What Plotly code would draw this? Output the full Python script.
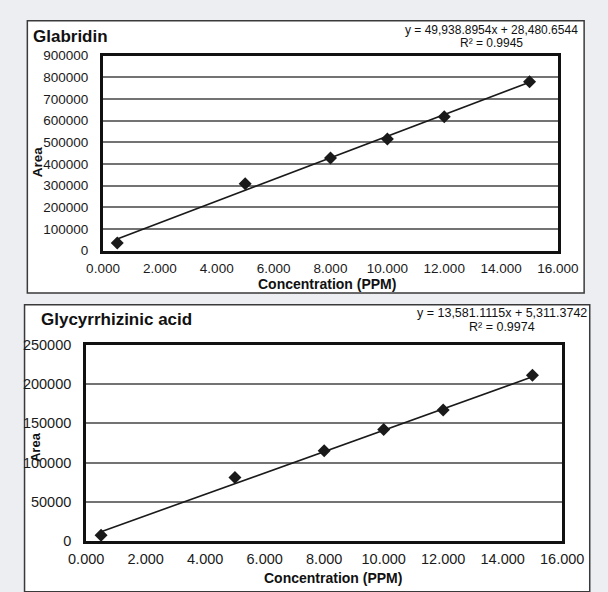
import plotly.graph_objects as go

# ---------------- data ----------------
conc = [0.5, 5, 8, 10, 12, 15]
glabridin_area = [35000, 308000, 428000, 515000, 618000, 780000]
glycyrrhizinic_area = [7500, 81000, 115000, 142000, 167000, 211000]

glab_slope, glab_icpt = 49938.8954, 28480.6544
glyc_slope, glyc_icpt = 13581.1115, 5311.3742
glab_r2, glyc_r2 = 0.9945, 0.9974

glab_eq = "y = 49,938.8954x + 28,480.6544"
glyc_eq = "y = 13,581.1115x + 5,311.3742"

x_ticks = [0, 2, 4, 6, 8, 10, 12, 14, 16]

W, H = 608, 592
FONT = "Arial, Liberation Sans, sans-serif"


def px(x):
    return x / W


def py(y):
    return 1 - y / H


fig = go.Figure()

# scatter points
fig.add_trace(go.Scatter(x=conc, y=glabridin_area, mode="markers",
                         marker=dict(symbol="diamond", size=10, color="#1a1a1a"),
                         xaxis="x", yaxis="y", showlegend=False))
fig.add_trace(go.Scatter(x=conc, y=glycyrrhizinic_area, mode="markers",
                         marker=dict(symbol="diamond", size=10, color="#1a1a1a"),
                         xaxis="x2", yaxis="y2", showlegend=False))

# linear trendlines from the equations
xs = [min(conc), max(conc)]
fig.add_trace(go.Scatter(x=xs, y=[glab_slope * v + glab_icpt for v in xs], mode="lines",
                         line=dict(color="#1a1a1a", width=1.6),
                         xaxis="x", yaxis="y", showlegend=False))
fig.add_trace(go.Scatter(x=xs, y=[glyc_slope * v + glyc_icpt for v in xs], mode="lines",
                         line=dict(color="#1a1a1a", width=1.6),
                         xaxis="x2", yaxis="y2", showlegend=False))

xax = dict(range=[0, 16], tickvals=x_ticks, tickformat=".3f", showgrid=False, zeroline=False,
           showline=True, mirror=True, linecolor="#111", linewidth=3, ticks="",
           fixedrange=True)
yax = dict(showgrid=True, gridcolor="#737373", gridwidth=1.6, zeroline=False,
           showline=True, mirror=True, linecolor="#111", linewidth=3, ticks="",
           tickformat="d", fixedrange=True)

fig.update_layout(
    width=W, height=H,
    margin=dict(l=0, r=0, t=0, b=0),
    paper_bgcolor="#eceef1",
    plot_bgcolor="white",
    font=dict(family=FONT, color="#1a1a1a"),
    xaxis=dict(xax, domain=[px(91), px(578)], anchor="y",
               tickfont=dict(size=13.5, color="#1a1a1a"), ticklabelstandoff=3),
    yaxis=dict(yax, domain=[py(249.3), py(49)], anchor="x", range=[0, 900000], dtick=100000,
               tickfont=dict(size=13.5, color="#1a1a1a"), ticklabelstandoff=9),
    xaxis2=dict(xax, domain=[px(73), px(582.5)], anchor="y2",
                tickfont=dict(size=14.5, color="#1a1a1a"), ticklabelstandoff=2),
    yaxis2=dict(yax, domain=[py(548), py(346)], anchor="x2", range=[0, 250000], dtick=50000,
                tickfont=dict(size=14.5, color="#1a1a1a"), ticklabelstandoff=9),
)

# panel frames
fig.add_shape(type="rect", xref="paper", yref="paper", layer="below",
              x0=px(10), x1=px(606), y0=py(293), y1=py(13),
              fillcolor="white", line=dict(color="#3a3a3a", width=1.5))
fig.add_shape(type="rect", xref="paper", yref="paper", layer="below",
              x0=px(7), x1=px(612), y0=py(600), y1=py(305),
              fillcolor="white", line=dict(color="#3a3a3a", width=1.5))


def ann(text, x, y, size, bold=False, xanchor="center", angle=0):
    fig.add_annotation(text=f"<b>{text}</b>" if bold else text,
                       xref="paper", yref="paper", x=px(x), y=py(y),
                       xanchor=xanchor, yanchor="middle", showarrow=False,
                       textangle=angle, font=dict(family=FONT, size=size, color="#111"))


# titles
ann("Glabridin", 14, 29, 17, bold=True, xanchor="left")
ann("Glycyrrhizinic acid", 22, 320, 17, bold=True, xanchor="left")

# equations
ann(glab_eq, 507, 23, 12)
ann(f"R² = {glab_r2:.4f}", 507, 36, 12)
ann(glyc_eq, 518.5, 313.5, 12.5)
ann(f"R² = {glyc_r2:.4f}", 518.5, 327.5, 12.5)

# axis titles
ann("Concentration (PPM)", 331, 284, 14, bold=True)
ann("Concentration (PPM)", 337, 585.5, 14, bold=True)
ann("Area", 21, 158, 13.5, bold=True, angle=-90)
ann("Area", 19.5, 451, 13, bold=True, angle=-90)

fig.write_html("out.html")
